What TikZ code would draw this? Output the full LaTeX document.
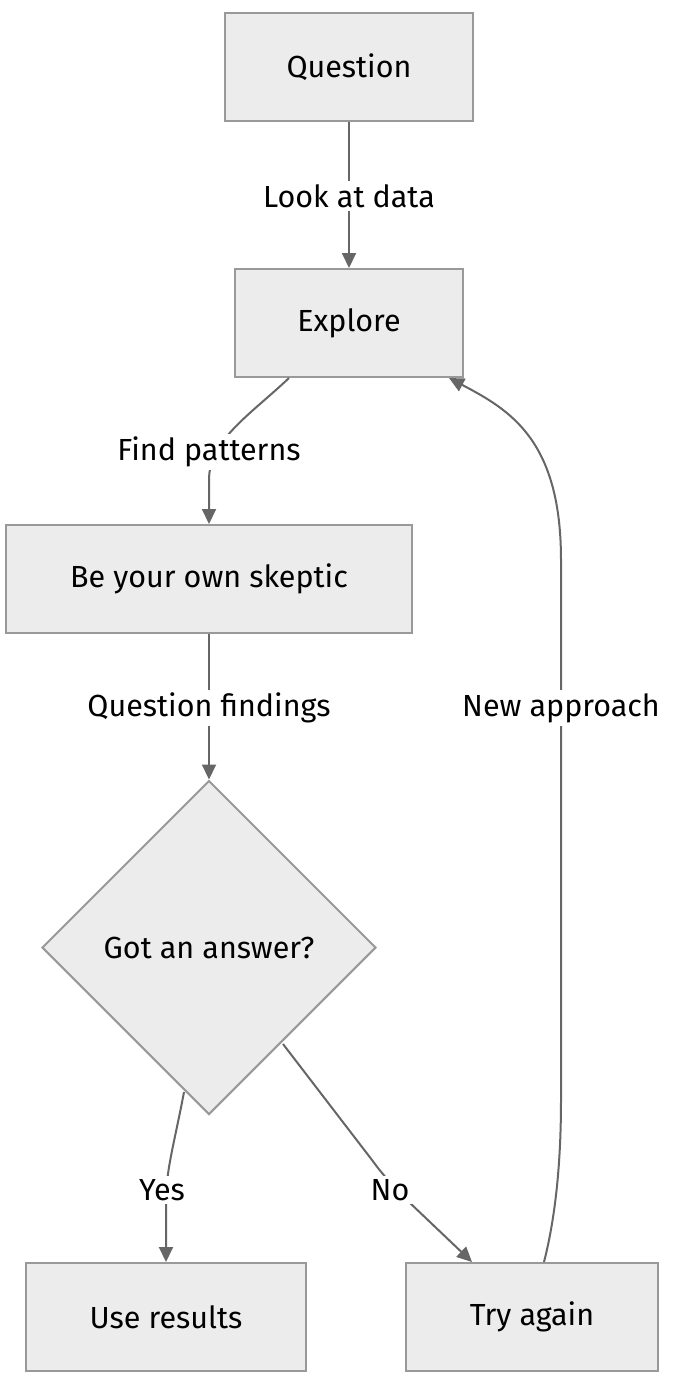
\documentclass[tikz,border=0pt]{standalone}
\usepackage{fontspec}
\setmainfont{Fira Sans}
\usetikzlibrary{shapes.geometric,arrows.meta}
\definecolor{boxfill}{HTML}{ECECEC}
\definecolor{boxline}{HTML}{999999}
\definecolor{edge}{HTML}{666666}
\begin{document}
\begin{tikzpicture}[x=1pt,y=-1pt,
  every node/.style={font=\fontsize{30.5}{36}\selectfont},
  box/.style={draw=boxline,fill=boxfill,line width=2pt,inner sep=0pt,minimum height=108pt},
  dec/.style={draw=boxline,fill=boxfill,line width=2pt,diamond,aspect=1,inner sep=0pt,minimum size=334pt},
  conn/.style={draw=edge,line width=2pt,-{Triangle[length=15pt,width=14pt]}},
  lbl/.style={fill=white,inner sep=3pt}]
\useasboundingbox (0,0) rectangle (680,1394);
\node[box,minimum width=248pt] (q) at (349,67) {Question};
\node[box,minimum width=228pt] (e) at (349,323) {Explore};
\node[box,minimum width=406pt] (s) at (209,579) {Be your own skeptic};
\node[dec] (d) at (209,947.5) {Got an answer?};
\node[box,minimum width=280pt] (u) at (166,1317) {Use results};
\node[box,minimum width=252pt] (t) at (532,1317) {Try again};
% connection points
\coordinate (eout) at ([xshift=55pt]e.south west);
\coordinate (ein) at ([xshift=-15pt]e.south east);
\coordinate (dyes) at (184,1092);
\coordinate (dno) at (283,1044);
\coordinate (tin) at ([xshift=67pt]t.north west);
\coordinate (tout) at ([xshift=139pt]t.north west);
% edges
\draw[conn] (q.south) -- (e.north);
\draw[conn] (eout) .. controls (250,415) and (209,440) .. (209,480) -- (s.north);
\draw[conn] (s.south) -- (d.north);
\draw[conn] (dyes) .. controls (175,1140) and (166,1170) .. (166,1200) -- (u.north);
\draw[conn] (dno) -- (372,1160) .. controls (385,1178) and (398,1191) .. (410,1203) -- (tin);
\draw[conn] (tout) .. controls (556,1215) and (561,1160) .. (561,1100) -- (561,560) .. controls (561,440) and (510,410) .. (ein);
% labels
\node[lbl] (l1) at (349,196) {Look at data};
\node[lbl] (l2) at (209,452) {Find patterns};
\node[lbl] (l3) at (209,708) {Question findings};
\node[lbl] (l4) at (561,708) {New approach};
\node[lbl] (l5) at (162,1190) {Yes};
\node[lbl] (l6) at (390,1190) {No};
\end{tikzpicture}
\end{document}
